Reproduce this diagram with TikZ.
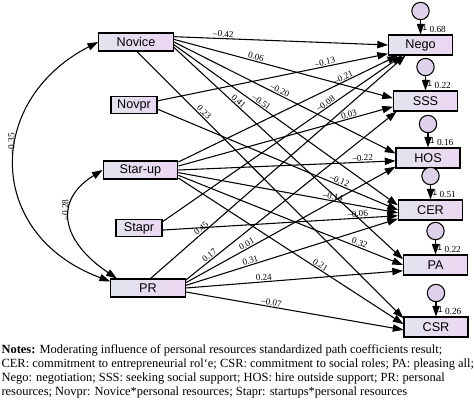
\documentclass[tikz,border=0pt]{standalone}
\usepackage{fontspec}
\setmainfont{Liberation Serif}
\setsansfont{Liberation Sans}
\usetikzlibrary{arrows.meta,positioning}
\definecolor{boxl}{RGB}{226,228,238}
\definecolor{boxr}{RGB}{236,214,242}
\definecolor{erc}{RGB}{222,210,234}
\tikzstyle{ob} = [rectangle, draw, line width=0.8pt, left color=boxl, right color=boxr,
    minimum width=56pt, minimum height=13.5pt, inner sep=0pt, font=\sffamily\fontsize{9.5}{11}\selectfont]
\tikzstyle{obn} = [ob, minimum width=34.5pt, minimum height=12.5pt]
\tikzstyle{dv} = [ob, minimum width=48pt, minimum height=15pt]
\tikzstyle{er} = [circle, draw, line width=0.8pt, fill=erc, minimum size=13pt, inner sep=0pt]
\tikzstyle{cf} = [sloped, above, inner sep=0.6pt, font=\fontsize{6.8}{8}\selectfont]
\tikzstyle{r2} = [anchor=south east, inner sep=1pt, xshift=-4pt, font=\fontsize{7}{8}\selectfont]
\tikzstyle{one} = [pos=0.5, right, inner sep=1pt, font=\sffamily\fontsize{6.5}{7}\selectfont]

\begin{document}
\begin{tikzpicture}[x=0.75pt,y=-0.75pt,->,>={Triangle[length=8pt,width=5.5pt]},
                    line width=0.8pt,node distance=25.5pt]
  \useasboundingbox (0,0) rectangle (474,418);

  % exogenous
  \node[ob]  (novice) at (136,42)   {Novice};
  \node[obn] (novpr)  at (134,105)  {Novpr};
  \node[ob]  (star)   at (140.5,170) {Star-up};
  \node[obn] (stapr)  at (139,228)  {Stapr};
  \node[ob]  (pr)     at (148,288)  {PR};

  % endogenous
  \node[dv] (nego) at (420.5,45) {Nego};
  \node[dv] (sss)  at (425.5,101) {SSS};
  \node[dv] (hos)  at (428,158) {HOS};
  \node[dv] (cer)  at (430.5,210) {CER};
  \node[dv] (pa)   at (435.5,265) {PA};
  \node[dv] (csr)  at (436,327) {CSR};

  % errors
  \node[er] (e1) [above of=nego] {};
  \node[er] (e2) [above of=sss] {};
  \node[er] (e3) [above of=hos] {};
  \node[er] (e4) [above of=cer] {};
  \node[er] (e5) [above of=pa] {};
  \node[er] (e6) [above of=csr] {};

  \path (e1) edge node[one] {1} (nego)
        (e2) edge node[one] {1} (sss)
        (e3) edge node[one] {1} (hos)
        (e4) edge node[one] {1} (cer)
        (e5) edge node[one] {1} (pa)
        (e6) edge node[one] {1} (csr);

  \node[r2] (r2nego) at (nego.north east) {0.68};
  \node[r2] (r2sss)  at (sss.north east)  {0.22};
  \node[r2] (r2hos)  at (hos.north east)  {0.16};
  \node[r2] (r2cer)  at (cer.north east)  {0.51};
  \node[r2] (r2pa)   at (pa.north east)   {0.22};
  \node[r2] (r2csr)  at (csr.north east)  {0.26};

  % paths
  \path (novice.8)   edge node[cf,pos=0.23] {--0.42} (nego.west)
        (novice.4)   edge node[cf,pos=0.37] {0.06} (sss.175)
        (novice.0)   edge node[cf,pos=0.47] {--0.20} (hos.172)
        (novice.-4)  edge node[cf,pos=0.38] {--0.51} (cer.172)
        (novice.-8)  edge node[cf,pos=0.27] {0.41} (pa.170)
        (novice.-85) edge node[cf,pos=0.24] {0.23} (csr.165)
        (novpr.10)   edge node[cf,pos=0.73] {--0.13} (nego.195)
        (novpr.-10)  edge node[cf,pos=0.75] {--0.12} (cer.180)
        (star.12)    edge node[cf,pos=0.76] {--0.21} (nego.205)
        (star.6)     edge node[cf,pos=0.80] {0.03} (sss.190)
        (star.0)     edge node[cf,pos=0.85] {--0.22} (hos.185)
        (star.-4)    edge node[cf,pos=0.70] {--0.14} (cer.185)
        (star.-8)    edge node[cf,pos=0.80] {0.32} (pa.180)
        (star.-12)   edge node[cf,pos=0.62] {0.21} (csr.175)
        (stapr.15)   edge node[cf,pos=0.69] {--0.08} (nego.210)
        (stapr.-5)   edge node[cf,pos=0.83] {--0.06} (cer.190)
        (pr.75)      edge node[cf,pos=0.21] {0.45} (nego.215)
        (pr.12)      edge node[cf,pos=0.125] {0.17} (sss.200)
        (pr.8)       edge node[cf,pos=0.30] {0.01} (hos.195)
        (pr.4)       edge node[cf,pos=0.31] {0.31} (cer.195)
        (pr.0)       edge node[cf,pos=0.36] {0.24} (pa.190)
        (pr.-6)      edge node[cf,pos=0.39] {--0.07} (csr.185);

  % covariances
  \draw[<->] (novice.west) .. controls (-15,100) and (-15,235) ..
        node[pos=0.42,rotate=90,anchor=south,inner sep=1pt,font=\fontsize{7}{8}\selectfont] {--0.35} (pr.170);
  \draw[<->] (star.west) .. controls (54,200) and (60,240) ..
        node[pos=0.4,rotate=90,anchor=south,inner sep=1pt,font=\fontsize{7}{8}\selectfont] {--0.28} (pr.163);

  \node[anchor=north west, align=left, inner sep=0pt, font=\fontsize{9.35}{10.5}\selectfont] (notes) at (1,344)
    {\textbf{Notes:} Moderating influence of personal resources standardized path coefficients result;\\
     CER: commitment to entrepreneurial rol`e; CSR: commitment to social roles; PA: pleasing all;\\
     Nego: negotiation; SSS: seeking social support; HOS: hire outside support; PR: personal\\
     resources; Novpr: Novice*personal resources; Stapr: startups*personal resources};
\end{tikzpicture}
\end{document}
